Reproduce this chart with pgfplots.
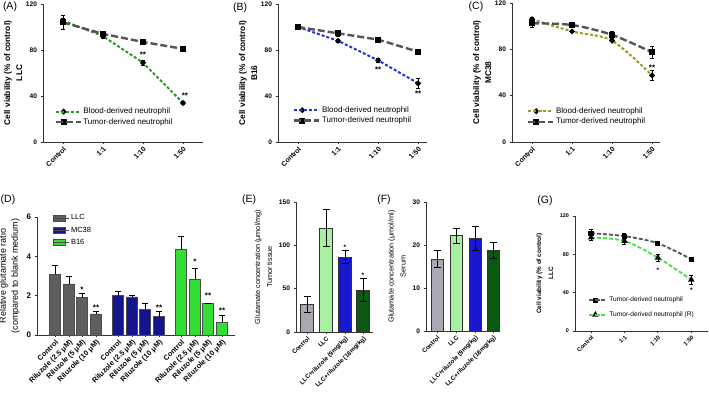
\documentclass[border=0pt]{standalone}
\usepackage{fontspec}
\setmainfont{Liberation Sans}
\usepackage{pgfplots}
\pgfplotsset{compat=1.18}
\definecolor{cgreenA}{HTML}{2A9A28}
\definecolor{ctum}{HTML}{555555}
\definecolor{cblue}{HTML}{2233E6}
\definecolor{colive}{HTML}{9C9C18}
\definecolor{cllc}{HTML}{5E5E5E}
\definecolor{cmc}{HTML}{14148C}
\definecolor{cb16}{HTML}{33DD33}
\definecolor{egray}{HTML}{A8A8B2}
\definecolor{elight}{HTML}{A6F0A0}
\definecolor{eblue}{HTML}{1818D0}
\definecolor{edark}{HTML}{0C5A12}
\definecolor{glight}{HTML}{44E044}
\newcommand{\fsz}[2]{\fontsize{#1}{#2}\selectfont}
\newcommand{\fXA}{\fsz{7}{8}\bfseries}
\newcommand{\fYA}{\fsz{6.6}{7}\bfseries}
\newcommand{\fLA}{\fsz{8}{9}}
\newcommand{\fYLA}{\fsz{8.3}{10}\bfseries}
\newcommand{\fXD}{\fsz{7.3}{8}\bfseries}
\newcommand{\fYD}{\fsz{8}{9}\bfseries}
\newcommand{\fLD}{\fsz{7.5}{8}}
\newcommand{\fYLD}{\fsz{9}{10}}
\newcommand{\fXE}{\fsz{6.2}{7}\bfseries}
\newcommand{\fYE}{\fsz{6.6}{7}\bfseries}
\newcommand{\fYLE}{\fsz{7.3}{8.5}}
\newcommand{\fXG}{\fsz{5.8}{6.5}\bfseries}
\newcommand{\fYG}{\fsz{5.4}{6}\bfseries}
\newcommand{\fYLG}{\fsz{6.4}{7.5}\bfseries}
\newcommand{\fLG}{\fsz{6.6}{7.5}}
\newcommand{\fST}{\fsz{8}{9}\bfseries}
\newcommand{\fSTs}{\fsz{6.5}{7}\bfseries}
\newcommand{\fPL}{\fsz{10.5}{12}}
\pgfplotsset{
  prism/.style={
    scale only axis, anchor=south west, clip=false,
    axis lines=left,
    axis line style={line width=0.8pt, black!80, -},
    tick align=outside, major tick length=2.5pt,
    tick style={line width=0.8pt, black!80},
    /pgf/number format/assume math mode=true,
    ylabel style={align=center},
  },
  linepanel/.style={
    prism, ymin=0, ymax=120, ytick={0,40,80,120},
    xtick={0,1,2,3},
    xmin=-0.5, legend cell align=left,
  },
  eb/.style 2 args={error bars/y dir=#1, error bars/y explicit,
    error bars/error bar style={line width=0.6pt, black, solid},
    error bars/error mark options={rotate=90, mark size=#2, line width=0.6pt, black, solid}},
  mkc/.style={mark=*, mark size=1.7pt, mark options={solid, fill=black, draw=black}},
  mks/.style={mark=square*, mark size=1.7pt, mark options={solid, fill=black, draw=black}},
  mkt/.style={mark=triangle*, mark size=1.9pt, mark options={solid, fill=black, draw=black}},
  lineleg/.style 2 args={legend image code/.code={
     \draw[mark repeat=2, mark phase=2, ##1] plot coordinates {(0pt,0pt) (#1/2,0pt) (#1,0pt)};
     \path (0pt,0pt) -- (#2,0pt);}},
  barleg/.style={legend image code/.code={
     \draw[##1,/tikz/.cd, draw=black!70, line width=0.5pt] (0pt,-3pt) rectangle (12pt,3pt);
     \path (0pt,0pt) -- (16pt,0pt);}},
  blood/.style={line width=2pt, dash pattern=on 3pt off 2pt, mkc},
  tumor/.style={ctum, line width=2.4pt, dash pattern=on 7pt off 3pt, mks},
}
\begin{document}
\begin{tikzpicture}

% ---------------- (A) ----------------
\begin{axis}[linepanel, at={(43pt,259pt)}, width=160pt, height=138pt, xmax=3.5,
  xticklabels={{\fXA Control},{\fXA 1:1},{\fXA 1:10},{\fXA 1:50}},
  yticklabel={\fYA\pgfmathprintnumber{\tick}},
  ylabel={\fYLA Cell viability (\% of control)\\\fYLA LLC}, ylabel shift=-3pt,
  xticklabel style={rotate=45, anchor=north east, inner sep=1pt},
  lineleg={16pt}{25pt},
  legend style={draw=none, fill=none, at={(0.07,0.26)}, anchor=north west, inner sep=0pt, row sep=0pt, nodes={inner sep=1.6pt}},
]
\addplot[cgreenA, blood, eb={both}{2pt}] coordinates {(0,105.5) +- (0,2) (1,92) +- (0,1.5) (2,69) +- (0,2) (3,34) +- (0,1.5)};
\addlegendentry{\fLA Blood-derived neutrophil}
\addplot[tumor, eb={both}{2pt}] coordinates {(0,104) +- (0,6) (1,94) +- (0,2.5) (2,87) +- (0,1.5) (3,81) +- (0,2.5)};
\addlegendentry{\fLA Tumor-derived neutrophil}
\node at (axis cs:2,76) {\fST **};
\node at (axis cs:3.05,40) {\fST **};
\end{axis}

% ---------------- (B) ----------------
\begin{axis}[linepanel, at={(278pt,259pt)}, width=149pt, height=138pt, xmax=3.22,
  xticklabels={{\fXA Control},{\fXA 1:1},{\fXA 1:10},{\fXA 1:50}},
  yticklabel={\fYA\pgfmathprintnumber{\tick}},
  ylabel={\fYLA Cell viability (\% of control)\\\fYLA B16}, ylabel shift=-3pt,
  xticklabel style={rotate=45, anchor=north east, inner sep=1pt},
  lineleg={16pt}{25pt},
  legend style={draw=none, fill=none, at={(0.1,0.27)}, anchor=north west, inner sep=0pt, row sep=0pt, nodes={inner sep=1.6pt}},
]
\addplot[cblue, blood, eb={both}{2pt}] coordinates {(0,100) +- (0,1) (1,88) +- (0,1) (2,71) +- (0,2) (3,51) +- (0,4)};
\addlegendentry{\fLA Blood-derived neutrophil}
\addplot[tumor, eb={both}{2pt}] coordinates {(0,100) +- (0,1.5) (1,94.5) +- (0,2.5) (2,89) +- (0,1.5) (3,78.5) +- (0,1.5)};
\addlegendentry{\fLA Tumor-derived neutrophil}
\node at (axis cs:2,63) {\fST **};
\node at (axis cs:3,42) {\fST **};
\end{axis}

% ---------------- (C) ----------------
\begin{axis}[linepanel, at={(512pt,259pt)}, width=148pt, height=139pt, xmax=3.2,
  xticklabels={{\fXA Control},{\fXA 1:1},{\fXA 1:10},{\fXA 1:50}},
  yticklabel={\fYA\pgfmathprintnumber{\tick}},
  ylabel={\fYLA Cell viability (\% of control)\\\fYLA MC38}, ylabel shift=-3pt,
  xticklabel style={rotate=45, anchor=north east, inner sep=1pt},
  lineleg={16pt}{25pt},
  legend style={draw=none, fill=none, at={(0.1,0.26)}, anchor=north west, inner sep=0pt, row sep=0pt, nodes={inner sep=1.6pt}},
]
\addplot[colive, blood, smooth, eb={both}{2pt}] coordinates {(0,106) +- (0,2) (1,95.5) +- (0,1) (2,87.5) +- (0,1) (3,57.5) +- (0,4.5)};
\addlegendentry{\fLA Blood-derived neutrophil}
\addplot[tumor, smooth, eb={both}{2pt}] coordinates {(0,102.5) +- (0,3.5) (1,101) +- (0,1.5) (2,92.5) +- (0,3) (3,77.5) +- (0,5)};
\addlegendentry{\fLA Tumor-derived neutrophil}
\node at (axis cs:3,64) {\fST **};
\end{axis}

% ---------------- (D) ----------------
\begin{axis}[prism, at={(37pt,66pt)}, width=198pt, height=118pt,
  xmin=37, xmax=235, ymin=0, ymax=6, ytick={0,2,4,6},
  xtick={55,69,82,96,118,132,145,159,181,195,208,222},
  xticklabels={{\fXD Control},{\fXD Riluzole (2.5 μM)},{\fXD Riluzole (5 μM)},{\fXD Riluzole (10 μM)},{\fXD Control},{\fXD Riluzole (2.5 μM)},{\fXD Riluzole (5 μM)},{\fXD Riluzole (10 μM)},{\fXD Control},{\fXD Riluzole (2.5 μM)},{\fXD Riluzole (5 μM)},{\fXD Riluzole (10 μM)}},
  yticklabel={\fYD\pgfmathprintnumber{\tick}},
  ylabel={\fYLD Relative glutamate ratio\\\fYLD (compared to blank medium)},
  xticklabel style={rotate=45, anchor=north east, inner sep=1pt},
  barleg, legend cell align=left,
  legend style={draw=none, fill=none, at={(0.08,1.035)}, anchor=north west, inner sep=0pt, row sep=2.5pt, nodes={inner sep=1.5pt}},
]
\addplot[ybar, bar width=11, bar shift=0pt, fill=cllc, draw=black!70, line width=0.5pt, eb={plus}{3pt}] coordinates {(55,3.1) +- (0,0.42) (69,2.6) +- (0,0.4) (82,1.9) +- (0,0.2) (96,1.08) +- (0,0.1)};
\addlegendentry{\fLD LLC}
\addplot[ybar, bar width=11, bar shift=0pt, fill=cmc, draw=black!70, line width=0.5pt, eb={plus}{3pt}] coordinates {(118,2.0) +- (0,0.22) (132,1.94) +- (0,0.06) (145,1.3) +- (0,0.32) (159,0.93) +- (0,0.29)};
\addlegendentry{\fLD MC38}
\addplot[ybar, bar width=11, bar shift=0pt, fill=cb16, draw=black!70, line width=0.5pt, eb={plus}{3pt}] coordinates {(181,4.34) +- (0,0.67) (195,2.81) +- (0,0.6) (208,1.6) +- (0,0.03) (222,0.66) +- (0,0.36)};
\addlegendentry{\fLD B16}
\node at (axis cs:82,2.32) {\fST *};
\node at (axis cs:96,1.38) {\fST **};
\node at (axis cs:159,1.4) {\fST **};
\node at (axis cs:195,3.7) {\fST *};
\node at (axis cs:208,1.98) {\fST **};
\node at (axis cs:222,1.25) {\fST **};
\end{axis}

% ---------------- (E) ----------------
\begin{axis}[prism, at={(296pt,69pt)}, width=77pt, height=130pt,
  xmin=296, xmax=373, ymin=0, ymax=150, ytick={0,50,100,150},
  xtick={307,326,345,363},
  xticklabels={{\fXE Control},{\fXE LLC},{\fXE LLC+riluzole (9mg/kg)},{\fXE LLC+riluzole (18mg/kg)}},
  yticklabel={\fYE\pgfmathprintnumber{\tick}},
  ylabel={\fYLE Glutamate concentration (μmol/mg)\\\fYLE Tumor tissue},
  xticklabel style={rotate=45, anchor=north east, inner sep=1pt},
]
\addplot[ybar, bar width=13, bar shift=0pt, fill=egray, draw=black!80, line width=0.5pt, eb={both}{3.5pt}] coordinates {(307,32) +- (0,9)};
\addplot[ybar, bar width=13, bar shift=0pt, fill=elight, draw=black!80, line width=0.5pt, eb={both}{3.5pt}] coordinates {(326,120) +- (0,21)};
\addplot[ybar, bar width=13, bar shift=0pt, fill=eblue, draw=black!80, line width=0.5pt, eb={both}{3.5pt}] coordinates {(345,86.5) +- (0,7.5)};
\addplot[ybar, bar width=13, bar shift=0pt, fill=edark, draw=black!80, line width=0.5pt, eb={both}{3.5pt}] coordinates {(363,48.5) +- (0,13)};
\node at (axis cs:345,98) {\fSTs *};
\node at (axis cs:363,65) {\fSTs *};
\end{axis}

% ---------------- (F) ----------------
\begin{axis}[prism, at={(426pt,70pt)}, width=73pt, height=129pt,
  xmin=426, xmax=499, ymin=0, ymax=30, ytick={0,10,20,30},
  xtick={437,456,475,493},
  xticklabels={{\fXE Control},{\fXE LLC},{\fXE LLC+riluzole (9mg/kg)},{\fXE LLC+riluzole (18mg/kg)}},
  yticklabel={\fYE\pgfmathprintnumber{\tick}},
  ylabel={\fYLE Glutamate concentration (μmol/ml)\\\fYLE Serum},
  xticklabel style={rotate=45, anchor=north east, inner sep=1pt},
]
\addplot[ybar, bar width=12, bar shift=0pt, fill=egray, draw=black!80, line width=0.5pt, eb={both}{3.5pt}] coordinates {(437,16.8) +- (0,2)};
\addplot[ybar, bar width=12, bar shift=0pt, fill=elight, draw=black!80, line width=0.5pt, eb={both}{3.5pt}] coordinates {(456,22.2) +- (0,1.7)};
\addplot[ybar, bar width=12, bar shift=0pt, fill=eblue, draw=black!80, line width=0.5pt, eb={both}{3.5pt}] coordinates {(475,21.6) +- (0,2.8)};
\addplot[ybar, bar width=12, bar shift=0pt, fill=edark, draw=black!80, line width=0.5pt, eb={both}{3.5pt}] coordinates {(493,18.8) +- (0,1.8)};
\end{axis}

% ---------------- (G) ----------------
\begin{axis}[linepanel, at={(575pt,70pt)}, width=133pt, height=115pt, xmin=-0.48, xmax=3.5,
  xticklabels={{\fXG Control},{\fXG 1:1},{\fXG 1:10},{\fXG 1:50}},
  yticklabel={\fYG\pgfmathprintnumber{\tick}},
  ylabel={\fYLG Cell viability (\% of control)\\\fYLG LLC},
  xticklabel style={rotate=45, anchor=north east, inner sep=1pt},
  lineleg={12pt}{17.5pt},
  legend style={draw=none, fill=none, at={(0.1,0.31)}, anchor=north west, inner sep=0pt, row sep=5pt, nodes={inner sep=1.6pt}},
]
\addplot[ctum, line width=1.8pt, dash pattern=on 4pt off 2pt, smooth, mks, eb={both}{2pt}] coordinates {(0,102) +- (0,4) (1,99) +- (0,3) (2,91.5) +- (0,2) (3,75) +- (0,2)};
\addlegendentry{\fLG Tumor-derived neutrophil}
\addplot[glight, line width=1.8pt, dash pattern=on 4pt off 2pt, smooth, mkt, eb={both}{2pt}] coordinates {(0,97.5) +- (0,3) (1,94) +- (0,3.5) (2,76.5) +- (0,4) (3,53.5) +- (0,5)};
\addlegendentry{\fLG Tumor-derived neutrophil (R)}
\node at (axis cs:2,63) {\fSTs *};
\node at (axis cs:3,42) {\fSTs *};
\end{axis}

% panel letters
\node at (10pt,394pt) {\fPL (A)};
\node at (240pt,393pt) {\fPL (B)};
\node at (476pt,394pt) {\fPL (C)};
\node at (8pt,201pt) {\fPL (D)};
\node at (249pt,201pt) {\fPL (E)};
\node at (384pt,201pt) {\fPL (F)};
\node at (545pt,200pt) {\fPL (G)};

\pgfresetboundingbox
\useasboundingbox (0pt,0pt) rectangle (709pt,401pt);
\end{tikzpicture}
\end{document}
